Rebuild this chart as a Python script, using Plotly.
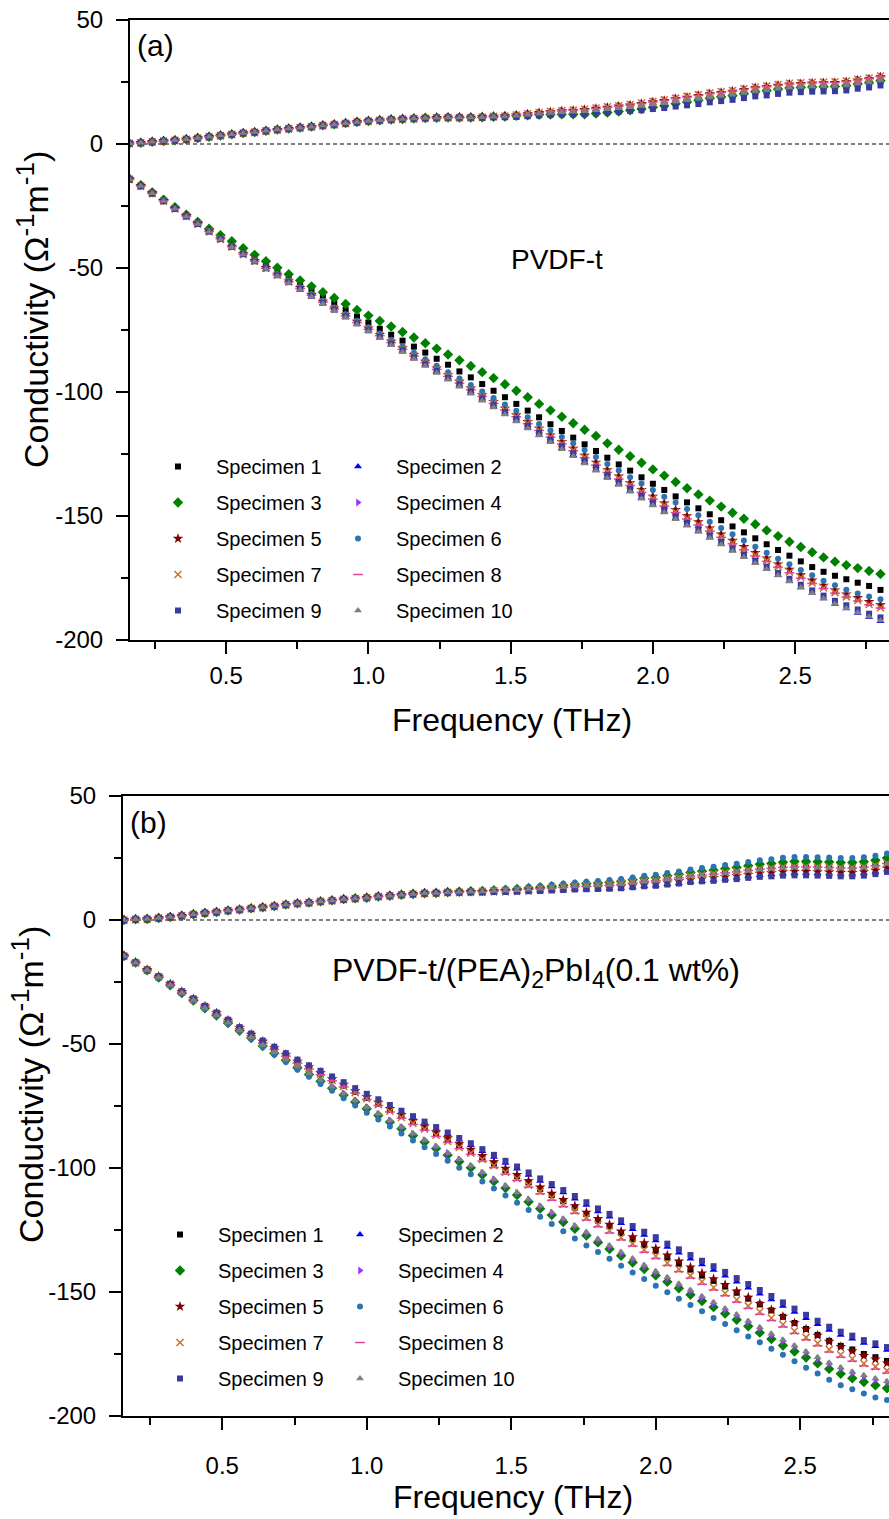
import plotly.graph_objects as go

FREQ = [0.16, 0.20, 0.24, 0.28, 0.32, 0.36, 0.40, 0.44, 0.48, 0.52,
        0.56, 0.60, 0.64, 0.68, 0.72, 0.76, 0.80, 0.84, 0.88, 0.92,
        0.96, 1.00, 1.04, 1.08, 1.12, 1.16, 1.20, 1.24, 1.28, 1.32,
        1.36, 1.40, 1.44, 1.48, 1.52, 1.56, 1.60, 1.64, 1.68, 1.72,
        1.76, 1.80, 1.84, 1.88, 1.92, 1.96, 2.00, 2.04, 2.08, 2.12,
        2.16, 2.20, 2.24, 2.28, 2.32, 2.36, 2.40, 2.44, 2.48, 2.52,
        2.56, 2.60, 2.64, 2.68, 2.72, 2.76, 2.80]

NAMES = ["Specimen 1", "Specimen 2", "Specimen 3", "Specimen 4", "Specimen 5",
         "Specimen 6", "Specimen 7", "Specimen 8", "Specimen 9", "Specimen 10"]

# ---------------- Panel (a): PVDF-t, upper branch ----------------
PA_UP_S1 = [0.3, 0.5, 0.9, 1.2, 1.5, 1.9, 2.4, 2.9, 3.4, 3.9,
            4.4, 4.8, 5.3, 5.8, 6.2, 6.6, 7.0, 7.5, 7.9, 8.4,
            8.9, 9.3, 9.6, 9.9, 10.1, 10.3, 10.5, 10.6, 10.7, 10.7,
            10.7, 10.7, 10.9, 10.9, 11.1, 11.5, 11.8, 12.0, 12.2, 12.4,
            12.5, 12.8, 13.2, 13.6, 14.0, 14.5, 15.2, 15.7, 16.5, 17.1,
            17.8, 18.5, 19.0, 19.5, 20.2, 20.9, 21.3, 21.9, 22.4, 22.6,
            22.8, 22.9, 23.0, 23.3, 24.0, 24.5, 25.3]
PA_UP_S2 = [0.3, 0.5, 0.9, 1.2, 1.5, 1.9, 2.4, 2.9, 3.4, 3.9,
            4.4, 4.8, 5.3, 5.8, 6.2, 6.6, 7.0, 7.5, 7.9, 8.4,
            8.9, 9.3, 9.6, 9.9, 10.1, 10.3, 10.5, 10.6, 10.7, 10.7,
            10.7, 10.8, 11.1, 11.2, 11.6, 12.0, 12.4, 12.8, 13.1, 13.4,
            13.6, 14.0, 14.5, 14.9, 15.4, 15.9, 16.5, 17.1, 17.8, 18.5,
            19.1, 19.8, 20.3, 20.8, 21.5, 22.2, 22.6, 23.2, 23.7, 23.9,
            24.1, 24.2, 24.3, 24.6, 25.3, 25.8, 26.6]
PA_UP_S3 = [0.3, 0.5, 0.9, 1.2, 1.5, 1.9, 2.4, 2.9, 3.4, 3.9,
            4.4, 4.8, 5.3, 5.8, 6.2, 6.6, 7.0, 7.5, 7.9, 8.4,
            8.9, 9.3, 9.6, 9.9, 10.1, 10.3, 10.5, 10.6, 10.7, 10.7,
            10.7, 10.8, 11.0, 11.1, 11.4, 11.6, 11.8, 11.9, 12.0, 12.0,
            12.0, 12.3, 12.7, 13.1, 13.6, 14.1, 14.8, 15.4, 16.2, 16.9,
            17.6, 18.4, 19.0, 19.5, 20.3, 21.1, 21.5, 22.1, 22.6, 22.8,
            23.0, 23.1, 23.2, 23.5, 24.2, 24.7, 25.5]
PA_UP_S4 = [0.3, 0.5, 0.9, 1.2, 1.5, 1.9, 2.4, 2.9, 3.4, 3.9,
            4.4, 4.8, 5.3, 5.8, 6.2, 6.6, 7.0, 7.5, 7.9, 8.4,
            8.9, 9.3, 9.6, 9.9, 10.1, 10.3, 10.5, 10.6, 10.7, 10.7,
            10.7, 10.9, 11.2, 11.3, 11.7, 12.2, 12.7, 13.0, 13.4, 13.7,
            14.0, 14.4, 14.9, 15.4, 15.9, 16.4, 17.1, 17.7, 18.5, 19.1,
            19.8, 20.5, 21.0, 21.5, 22.2, 22.9, 23.3, 23.9, 24.4, 24.6,
            24.8, 24.9, 25.0, 25.3, 26.0, 26.5, 27.3]
PA_UP_S5 = [0.3, 0.5, 0.9, 1.2, 1.5, 1.9, 2.4, 2.9, 3.4, 3.9,
            4.4, 4.8, 5.3, 5.8, 6.2, 6.6, 7.0, 7.5, 7.9, 8.4,
            8.9, 9.3, 9.6, 9.9, 10.1, 10.3, 10.5, 10.6, 10.7, 10.7,
            10.7, 10.9, 11.1, 11.3, 11.6, 12.1, 12.6, 12.9, 13.3, 13.5,
            13.8, 14.3, 14.7, 15.2, 15.6, 16.2, 16.9, 17.4, 18.2, 18.8,
            19.5, 20.2, 20.7, 21.2, 21.9, 22.6, 23.0, 23.6, 24.1, 24.3,
            24.5, 24.6, 24.7, 25.0, 25.7, 26.2, 27.0]
PA_UP_S6 = [0.3, 0.5, 0.9, 1.2, 1.5, 1.9, 2.4, 2.9, 3.4, 3.9,
            4.4, 4.8, 5.3, 5.8, 6.2, 6.6, 7.0, 7.5, 7.9, 8.4,
            8.9, 9.3, 9.6, 9.9, 10.1, 10.3, 10.5, 10.6, 10.7, 10.7,
            10.7, 10.8, 10.9, 11.0, 11.3, 11.7, 12.0, 12.3, 12.6, 12.8,
            12.9, 13.3, 13.7, 14.1, 14.4, 14.9, 15.5, 16.0, 16.6, 17.2,
            17.8, 18.5, 19.0, 19.5, 20.2, 20.9, 21.3, 21.9, 22.4, 22.6,
            22.8, 22.9, 23.0, 23.3, 24.0, 24.5, 25.3]
PA_UP_S7 = [0.3, 0.5, 0.9, 1.2, 1.5, 1.9, 2.4, 2.9, 3.4, 3.9,
            4.4, 4.8, 5.3, 5.8, 6.2, 6.6, 7.0, 7.5, 7.9, 8.4,
            8.9, 9.3, 9.6, 9.9, 10.1, 10.3, 10.5, 10.6, 10.7, 10.7,
            10.7, 10.9, 11.2, 11.3, 11.7, 12.2, 12.7, 13.1, 13.4, 13.7,
            14.0, 14.5, 15.0, 15.4, 15.9, 16.5, 17.2, 17.8, 18.5, 19.2,
            19.9, 20.6, 21.1, 21.6, 22.3, 23.0, 23.4, 24.0, 24.5, 24.7,
            24.9, 25.0, 25.1, 25.4, 26.1, 26.6, 27.4]
PA_UP_S8 = [0.3, 0.5, 0.9, 1.2, 1.5, 1.9, 2.4, 2.9, 3.4, 3.9,
            4.4, 4.8, 5.3, 5.8, 6.2, 6.6, 7.0, 7.5, 7.9, 8.4,
            8.9, 9.3, 9.6, 9.9, 10.1, 10.3, 10.5, 10.6, 10.7, 10.7,
            10.7, 10.9, 11.1, 11.3, 11.7, 12.1, 12.6, 13.0, 13.3, 13.6,
            13.9, 14.3, 14.8, 15.2, 15.7, 16.3, 16.9, 17.5, 18.3, 18.9,
            19.6, 20.3, 20.8, 21.3, 22.0, 22.7, 23.1, 23.7, 24.2, 24.4,
            24.6, 24.7, 24.8, 25.1, 25.8, 26.3, 27.1]
PA_UP_S9 = [0.3, 0.5, 0.9, 1.2, 1.5, 1.9, 2.4, 2.9, 3.4, 3.9,
            4.4, 4.8, 5.3, 5.8, 6.2, 6.6, 7.0, 7.5, 7.9, 8.4,
            8.9, 9.3, 9.6, 9.9, 10.1, 10.3, 10.5, 10.6, 10.7, 10.7,
            10.7, 10.7, 10.8, 10.8, 11.0, 11.2, 11.5, 11.7, 11.9, 12.0,
            12.1, 12.4, 12.7, 13.0, 13.3, 13.6, 14.1, 14.5, 15.1, 15.6,
            16.1, 16.8, 17.3, 17.8, 18.5, 19.2, 19.6, 20.2, 20.7, 20.9,
            21.1, 21.2, 21.3, 21.6, 22.3, 22.8, 23.6]
PA_UP_S10 = [0.3, 0.5, 0.9, 1.2, 1.5, 1.9, 2.4, 2.9, 3.4, 3.9,
             4.4, 4.8, 5.3, 5.8, 6.2, 6.6, 7.0, 7.5, 7.9, 8.4,
             8.9, 9.3, 9.6, 9.9, 10.1, 10.3, 10.5, 10.6, 10.7, 10.7,
             10.7, 10.8, 11.0, 11.1, 11.4, 11.8, 12.2, 12.5, 12.8, 13.0,
             13.2, 13.6, 14.0, 14.4, 14.8, 15.3, 15.9, 16.4, 17.1, 17.7,
             18.3, 19.0, 19.5, 20.0, 20.7, 21.4, 21.8, 22.4, 22.9, 23.1,
             23.3, 23.4, 23.5, 23.8, 24.5, 25.0, 25.8]

# ---------------- Panel (a): PVDF-t, lower branch ----------------
PA_LO_S1 = [-14.2, -16.9, -19.9, -23.0, -26.0, -29.1, -32.1, -35.1, -38.0, -41.2,
            -43.9, -46.5, -49.2, -51.7, -54.2, -56.8, -59.1, -61.8, -64.2, -66.9,
            -69.6, -72.0, -74.5, -76.9, -79.3, -81.7, -84.1, -86.6, -89.0, -91.7,
            -94.1, -96.8, -99.5, -102.1, -104.8, -107.5, -110.2, -113.0, -115.7, -118.4,
            -121.1, -123.8, -126.5, -129.2, -131.7, -134.4, -137.0, -139.5, -142.1, -144.5,
            -146.9, -149.3, -151.7, -154.2, -156.6, -159.0, -161.4, -163.7, -166.0, -168.3,
            -170.6, -172.5, -174.1, -175.5, -176.9, -178.2, -179.8]
PA_LO_S2 = [-14.2, -16.9, -19.9, -23.0, -26.1, -29.2, -32.3, -35.4, -38.5, -41.6,
            -44.6, -47.4, -50.3, -53.1, -55.9, -58.7, -61.4, -64.2, -67.0, -69.8,
            -72.6, -75.4, -78.1, -80.9, -83.7, -86.5, -89.2, -92.0, -94.8, -97.6,
            -100.4, -103.2, -106.0, -108.8, -111.6, -114.4, -117.2, -119.9, -122.7, -125.5,
            -128.4, -131.4, -134.4, -137.2, -139.9, -142.7, -145.5, -148.3, -151.0, -153.7,
            -156.2, -158.7, -161.3, -163.9, -166.4, -168.9, -171.4, -173.9, -176.3, -178.8,
            -181.1, -183.3, -185.5, -187.3, -189.1, -190.8, -192.4]
PA_LO_S3 = [-14.0, -16.6, -19.5, -22.5, -25.5, -28.5, -31.4, -34.2, -36.8, -39.2,
            -42.0, -44.7, -47.3, -49.9, -52.5, -55.0, -57.4, -59.8, -62.1, -64.5,
            -66.9, -69.2, -71.4, -73.6, -75.8, -78.0, -80.3, -82.5, -84.9, -87.2,
            -89.5, -92.0, -94.4, -96.9, -99.5, -102.1, -104.8, -107.4, -110.0, -112.6,
            -115.2, -117.7, -120.7, -123.3, -125.9, -128.5, -131.2, -133.7, -136.3, -138.8,
            -141.3, -143.8, -146.2, -148.7, -151.1, -153.3, -155.8, -158.1, -160.4, -162.5,
            -164.6, -166.7, -168.4, -169.8, -171.0, -172.2, -173.4]
PA_LO_S4 = [-14.2, -16.9, -19.8, -22.9, -26.0, -29.0, -32.1, -35.2, -38.3, -41.3,
            -44.3, -47.1, -50.0, -52.7, -55.4, -58.1, -60.9, -63.6, -66.3, -69.1,
            -71.8, -74.5, -77.1, -79.8, -82.5, -85.2, -87.9, -90.6, -93.3, -96.0,
            -98.7, -101.4, -104.1, -106.8, -109.6, -112.3, -115.0, -117.7, -120.4, -123.1,
            -126.0, -128.9, -131.8, -134.4, -137.1, -139.8, -142.6, -145.3, -147.9, -150.5,
            -152.9, -155.3, -157.9, -160.4, -162.9, -165.3, -167.5, -169.9, -172.1, -174.3,
            -176.5, -178.5, -180.4, -182.1, -183.6, -185.2, -186.5]
PA_LO_S5 = [-14.2, -16.9, -19.8, -22.9, -26.0, -29.0, -32.1, -35.2, -38.3, -41.3,
            -44.3, -47.1, -49.9, -52.6, -55.3, -58.0, -60.8, -63.5, -66.2, -68.9,
            -71.6, -74.3, -76.9, -79.6, -82.3, -85.0, -87.7, -90.4, -93.1, -95.8,
            -98.5, -101.2, -103.9, -106.6, -109.3, -112.0, -114.7, -117.4, -120.1, -122.8,
            -125.6, -128.4, -131.4, -134.0, -136.7, -139.4, -142.1, -144.9, -147.5, -150.0,
            -152.4, -154.9, -157.4, -159.9, -162.4, -164.8, -167.0, -169.4, -171.6, -173.8,
            -175.9, -178.0, -179.9, -181.5, -183.0, -184.6, -185.9]
PA_LO_S6 = [-14.2, -16.8, -19.8, -22.8, -25.9, -28.9, -32.0, -35.0, -38.1, -41.1,
            -44.1, -46.9, -49.7, -52.4, -55.1, -57.8, -60.5, -63.2, -65.9, -68.6,
            -71.3, -73.9, -76.4, -79.0, -81.6, -84.2, -86.8, -89.4, -92.0, -94.6,
            -97.2, -99.8, -102.4, -105.0, -107.6, -110.2, -112.9, -115.5, -118.1, -120.7,
            -123.4, -126.2, -129.0, -131.7, -134.4, -136.9, -139.5, -142.2, -144.6, -147.2,
            -149.7, -152.3, -154.8, -157.4, -159.9, -162.4, -164.8, -167.2, -169.5, -171.8,
            -173.9, -176.1, -177.9, -179.7, -181.2, -182.5, -183.6]
PA_LO_S7 = [-14.2, -16.9, -19.9, -22.9, -26.0, -29.1, -32.2, -35.3, -38.3, -41.4,
            -44.4, -47.2, -50.1, -52.8, -55.5, -58.2, -61.0, -63.7, -66.4, -69.2,
            -71.9, -74.6, -77.2, -80.0, -82.7, -85.4, -88.1, -90.8, -93.6, -96.3,
            -99.0, -101.7, -104.4, -107.2, -109.9, -112.6, -115.3, -118.1, -120.8, -123.5,
            -126.3, -129.3, -132.2, -134.8, -137.5, -140.2, -143.0, -145.7, -148.4, -150.9,
            -153.4, -155.8, -158.4, -160.9, -163.4, -165.8, -168.0, -170.4, -172.6, -174.8,
            -177.0, -179.0, -180.9, -182.6, -184.1, -185.7, -187.0]
PA_LO_S8 = [-14.2, -16.9, -19.9, -22.9, -26.0, -29.1, -32.2, -35.3, -38.3, -41.4,
            -44.4, -47.2, -50.1, -52.8, -55.6, -58.3, -61.0, -63.8, -66.5, -69.3,
            -72.0, -74.7, -77.3, -80.1, -82.8, -85.5, -88.2, -90.9, -93.7, -96.4,
            -99.1, -101.8, -104.6, -107.3, -110.0, -112.8, -115.5, -118.2, -121.0, -123.7,
            -126.5, -129.5, -132.4, -135.1, -137.7, -140.5, -143.2, -146.0, -148.6, -151.2,
            -153.6, -156.1, -158.6, -161.2, -163.6, -166.1, -168.3, -170.6, -172.9, -175.1,
            -177.2, -179.2, -181.1, -182.7, -184.3, -185.8, -187.1]
PA_LO_S9 = [-14.2, -16.9, -19.9, -23.0, -26.0, -29.1, -32.2, -35.3, -38.3, -41.4,
            -44.4, -47.3, -50.1, -52.9, -55.7, -58.4, -61.2, -64.0, -66.8, -69.5,
            -72.3, -75.1, -77.7, -80.5, -83.2, -86.0, -88.8, -91.5, -94.3, -97.0,
            -99.8, -102.6, -105.3, -108.1, -110.9, -113.6, -116.4, -119.2, -121.9, -124.7,
            -127.6, -130.5, -133.5, -136.3, -139.0, -141.8, -144.6, -147.4, -150.1, -152.8,
            -155.3, -157.8, -160.4, -163.0, -165.5, -168.0, -170.4, -172.9, -175.3, -177.7,
            -180.0, -182.1, -184.2, -186.0, -187.7, -189.4, -190.9]
PA_LO_S10 = [-14.2, -16.9, -19.9, -23.0, -26.1, -29.2, -32.3, -35.4, -38.5, -41.6,
             -44.6, -47.5, -50.4, -53.2, -56.0, -58.8, -61.6, -64.4, -67.2, -70.0,
             -72.8, -75.6, -78.3, -81.1, -83.9, -86.7, -89.5, -92.3, -95.1, -97.9,
             -100.7, -103.5, -106.3, -109.1, -111.9, -114.7, -117.5, -120.3, -123.1, -125.9,
             -128.8, -131.8, -134.8, -137.5, -140.2, -143.0, -145.8, -148.6, -151.3, -153.9,
             -156.4, -158.9, -161.5, -164.1, -166.6, -169.1, -171.5, -174.0, -176.4, -178.8,
             -181.1, -183.3, -185.4, -187.2, -188.9, -190.6, -192.1]

# ---------------- Panel (b): PVDF-t/(PEA)2PbI4, upper branch ----------------
PB_UP_S1 = [0.0, 0.3, 0.4, 0.8, 1.2, 1.7, 2.3, 2.8, 3.2, 3.8,
            4.2, 4.7, 5.1, 5.6, 6.2, 6.7, 7.0, 7.5, 7.9, 8.4,
            8.7, 9.0, 9.5, 9.8, 10.2, 10.5, 10.8, 10.9, 11.2, 11.3,
            11.4, 11.6, 11.8, 11.9, 12.1, 12.4, 12.7, 13.1, 13.4, 13.7,
            13.9, 14.1, 14.3, 14.7, 15.2, 15.7, 16.0, 16.6, 17.1, 17.9,
            18.3, 18.7, 19.2, 19.6, 20.2, 20.8, 21.1, 21.5, 21.7, 21.7,
            21.6, 21.5, 21.3, 21.3, 21.6, 22.2, 23.1]
PB_UP_S2 = [0.0, 0.3, 0.4, 0.8, 1.2, 1.7, 2.3, 2.8, 3.2, 3.8,
            4.2, 4.7, 5.1, 5.6, 6.2, 6.7, 7.0, 7.5, 7.9, 8.4,
            8.7, 9.0, 9.5, 9.8, 10.2, 10.5, 10.8, 10.9, 11.2, 11.2,
            11.2, 11.2, 11.3, 11.3, 11.4, 11.6, 11.8, 12.0, 12.2, 12.4,
            12.5, 12.6, 12.7, 12.9, 13.3, 13.7, 13.9, 14.4, 14.8, 15.4,
            15.7, 16.1, 16.6, 17.0, 17.6, 18.1, 18.4, 18.8, 19.0, 19.0,
            18.9, 18.8, 18.6, 18.6, 18.9, 19.5, 20.4]
PB_UP_S3 = [0.0, 0.3, 0.4, 0.8, 1.2, 1.7, 2.3, 2.8, 3.2, 3.8,
            4.2, 4.7, 5.1, 5.6, 6.2, 6.7, 7.0, 7.5, 7.9, 8.4,
            8.7, 9.0, 9.5, 9.8, 10.2, 10.5, 10.8, 10.9, 11.2, 11.4,
            11.6, 11.7, 12.0, 12.2, 12.5, 12.9, 13.2, 13.6, 14.0, 14.4,
            14.7, 14.9, 15.2, 15.6, 16.2, 16.8, 17.1, 17.8, 18.4, 19.2,
            19.7, 20.1, 20.7, 21.2, 21.9, 22.5, 22.8, 23.3, 23.6, 23.6,
            23.5, 23.4, 23.2, 23.2, 23.5, 24.1, 25.0]
PB_UP_S4 = [0.0, 0.3, 0.4, 0.8, 1.2, 1.7, 2.3, 2.8, 3.2, 3.8,
            4.2, 4.7, 5.1, 5.6, 6.2, 6.7, 7.0, 7.5, 7.9, 8.4,
            8.7, 9.0, 9.5, 9.8, 10.2, 10.5, 10.8, 10.9, 11.2, 11.3,
            11.4, 11.4, 11.6, 11.7, 11.9, 12.2, 12.5, 12.8, 13.0, 13.3,
            13.5, 13.7, 13.9, 14.2, 14.7, 15.1, 15.4, 16.0, 16.5, 17.2,
            17.5, 17.9, 18.4, 18.8, 19.4, 19.8, 20.1, 20.5, 20.6, 20.6,
            20.5, 20.4, 20.2, 20.2, 20.5, 21.1, 22.0]
PB_UP_S5 = [0.0, 0.3, 0.4, 0.8, 1.2, 1.7, 2.3, 2.8, 3.2, 3.8,
            4.2, 4.7, 5.1, 5.6, 6.2, 6.7, 7.0, 7.5, 7.9, 8.4,
            8.7, 9.0, 9.5, 9.8, 10.2, 10.5, 10.8, 10.9, 11.2, 11.2,
            11.3, 11.3, 11.5, 11.5, 11.7, 11.9, 12.1, 12.4, 12.6, 12.9,
            13.0, 13.2, 13.3, 13.5, 14.0, 14.4, 14.7, 15.2, 15.7, 16.3,
            16.7, 17.0, 17.4, 17.8, 18.3, 18.8, 19.0, 19.4, 19.5, 19.5,
            19.4, 19.3, 19.1, 19.1, 19.4, 20.0, 20.9]
PB_UP_S6 = [0.0, 0.3, 0.4, 0.8, 1.2, 1.7, 2.3, 2.8, 3.2, 3.8,
            4.2, 4.7, 5.1, 5.6, 6.2, 6.7, 7.0, 7.5, 7.9, 8.4,
            8.7, 9.0, 9.5, 9.8, 10.2, 10.5, 10.8, 10.9, 11.2, 11.4,
            11.7, 11.9, 12.3, 12.5, 12.8, 13.3, 13.7, 14.2, 14.6, 15.0,
            15.4, 15.7, 16.1, 16.5, 17.1, 17.8, 18.2, 19.0, 19.6, 20.4,
            21.0, 21.5, 22.2, 22.7, 23.4, 24.1, 24.5, 25.1, 25.4, 25.4,
            25.3, 25.2, 25.0, 25.0, 25.3, 25.9, 26.8]
PB_UP_S7 = [0.0, 0.3, 0.4, 0.8, 1.2, 1.7, 2.3, 2.8, 3.2, 3.8,
            4.2, 4.7, 5.1, 5.6, 6.2, 6.7, 7.0, 7.5, 7.9, 8.4,
            8.7, 9.0, 9.5, 9.8, 10.2, 10.5, 10.8, 10.9, 11.2, 11.3,
            11.4, 11.6, 11.8, 11.9, 12.1, 12.4, 12.7, 13.0, 13.3, 13.6,
            13.8, 14.1, 14.3, 14.6, 15.1, 15.6, 15.9, 16.5, 17.0, 17.7,
            18.1, 18.6, 19.1, 19.5, 20.1, 20.6, 20.9, 21.3, 21.5, 21.5,
            21.4, 21.3, 21.1, 21.1, 21.4, 22.0, 22.9]
PB_UP_S8 = [0.0, 0.3, 0.4, 0.8, 1.2, 1.7, 2.3, 2.8, 3.2, 3.8,
            4.2, 4.7, 5.1, 5.6, 6.2, 6.7, 7.0, 7.5, 7.9, 8.4,
            8.7, 9.0, 9.5, 9.8, 10.2, 10.5, 10.8, 10.9, 11.2, 11.3,
            11.4, 11.5, 11.7, 11.8, 12.0, 12.3, 12.6, 12.9, 13.2, 13.5,
            13.7, 13.9, 14.1, 14.4, 14.9, 15.6, 15.9, 16.5, 17.0, 17.7,
            18.1, 18.5, 19.0, 19.4, 20.0, 20.5, 20.8, 21.2, 21.4, 21.4,
            21.3, 21.2, 21.0, 21.0, 21.3, 21.9, 22.8]
PB_UP_S9 = [0.0, 0.3, 0.4, 0.8, 1.2, 1.7, 2.3, 2.8, 3.2, 3.8,
            4.2, 4.7, 5.1, 5.6, 6.2, 6.7, 7.0, 7.5, 7.9, 8.4,
            8.7, 9.0, 9.5, 9.8, 10.2, 10.5, 10.8, 10.9, 11.2, 11.2,
            11.2, 11.2, 11.3, 11.3, 11.4, 11.6, 11.7, 11.9, 12.1, 12.3,
            12.4, 12.5, 12.6, 12.8, 13.2, 13.6, 13.8, 14.3, 14.7, 15.3,
            15.6, 15.8, 16.2, 16.5, 17.0, 17.4, 17.6, 17.9, 18.0, 18.0,
            17.9, 17.8, 17.6, 17.6, 17.9, 18.5, 19.4]
PB_UP_S10 = [0.0, 0.3, 0.4, 0.8, 1.2, 1.7, 2.3, 2.8, 3.2, 3.8,
             4.2, 4.7, 5.1, 5.6, 6.2, 6.7, 7.0, 7.5, 7.9, 8.4,
             8.7, 9.0, 9.5, 9.8, 10.2, 10.5, 10.8, 10.9, 11.2, 11.3,
             11.4, 11.5, 11.7, 11.8, 12.0, 12.3, 12.6, 12.9, 13.2, 13.5,
             13.7, 13.9, 14.1, 14.4, 14.9, 15.4, 15.7, 16.3, 16.8, 17.5,
             17.9, 18.3, 18.8, 19.2, 19.8, 20.3, 20.6, 21.0, 21.2, 21.2,
             21.1, 21.0, 20.8, 20.8, 21.1, 21.7, 22.6]

# ---------------- Panel (b): PVDF-t/(PEA)2PbI4, lower branch ----------------
PB_LO_S1 = [-14.5, -17.2, -20.1, -22.9, -25.9, -29.0, -31.9, -35.0, -37.7, -40.7,
            -43.7, -46.4, -49.3, -51.9, -54.6, -57.3, -59.7, -62.0, -64.4, -66.8,
            -69.3, -71.8, -74.1, -76.6, -79.1, -81.5, -83.8, -86.2, -88.6, -90.9,
            -93.2, -95.8, -98.2, -100.8, -103.3, -105.8, -108.4, -110.9, -113.4, -115.9,
            -118.6, -121.2, -123.5, -126.2, -128.7, -131.1, -133.4, -136.1, -138.6, -141.0,
            -143.4, -145.5, -147.8, -150.3, -152.7, -155.0, -157.4, -160.0, -162.5, -164.9,
            -167.3, -169.7, -171.7, -173.2, -175.0, -176.3, -177.8]
PB_LO_S2 = [-14.5, -17.1, -20.0, -22.7, -25.7, -28.7, -31.7, -34.7, -37.4, -40.3,
            -43.3, -46.0, -48.8, -51.3, -53.9, -56.5, -58.8, -61.0, -63.4, -65.7,
            -68.1, -70.4, -72.6, -75.1, -77.4, -79.6, -81.8, -84.2, -86.4, -88.6,
            -90.8, -93.2, -95.6, -98.0, -100.3, -102.8, -105.2, -107.5, -109.9, -112.4,
            -114.9, -117.5, -119.7, -122.3, -124.7, -127.0, -129.2, -131.9, -134.2, -136.6,
            -138.9, -141.1, -143.4, -145.9, -148.3, -150.7, -153.0, -155.6, -158.1, -160.6,
            -163.0, -165.3, -167.3, -168.9, -170.6, -171.9, -173.4]
PB_LO_S3 = [-14.5, -17.2, -20.3, -23.2, -26.3, -29.5, -32.5, -35.6, -38.5, -41.6,
            -44.7, -47.6, -50.8, -53.7, -56.6, -59.6, -62.3, -65.0, -67.8, -70.6,
            -73.4, -76.1, -78.8, -81.5, -84.2, -86.9, -89.5, -92.1, -94.8, -97.4,
            -99.9, -102.7, -105.4, -108.1, -110.9, -113.6, -116.4, -119.0, -121.8, -124.5,
            -127.2, -130.0, -132.7, -135.4, -138.1, -140.7, -143.3, -145.9, -148.5, -151.1,
            -153.6, -156.1, -158.7, -161.2, -163.8, -166.4, -169.0, -171.6, -174.0, -176.4,
            -178.8, -181.0, -183.0, -184.8, -186.3, -187.6, -188.8]
PB_LO_S4 = [-14.5, -17.2, -20.2, -23.1, -26.2, -29.3, -32.3, -35.4, -38.3, -41.3,
            -44.4, -47.3, -50.4, -53.3, -56.2, -59.1, -61.8, -64.5, -67.2, -70.0,
            -72.9, -75.6, -78.2, -80.9, -83.6, -86.2, -88.8, -91.4, -94.0, -96.6,
            -99.3, -102.0, -104.7, -107.4, -110.1, -112.8, -115.5, -118.1, -120.8, -123.5,
            -126.4, -129.2, -131.8, -134.5, -137.1, -139.7, -142.2, -144.7, -147.3, -149.8,
            -152.3, -154.7, -157.3, -159.7, -162.3, -164.8, -167.4, -169.9, -172.2, -174.6,
            -176.9, -179.1, -181.0, -182.8, -184.2, -185.5, -186.6]
PB_LO_S5 = [-14.5, -17.1, -20.1, -22.8, -25.8, -28.9, -31.8, -34.8, -37.5, -40.5,
            -43.5, -46.2, -49.0, -51.6, -54.3, -57.0, -59.3, -61.6, -64.0, -66.3,
            -68.8, -71.3, -73.6, -76.1, -78.5, -80.9, -83.2, -85.6, -87.9, -90.3,
            -92.5, -95.1, -97.6, -100.2, -102.7, -105.2, -107.8, -110.3, -112.8, -115.3,
            -117.9, -120.5, -122.8, -125.5, -127.8, -130.2, -132.5, -135.2, -137.6, -140.0,
            -142.4, -144.7, -147.1, -149.7, -152.2, -154.7, -157.2, -159.9, -162.5, -165.0,
            -167.5, -170.0, -172.1, -173.8, -175.7, -177.1, -178.7]
PB_LO_S6 = [-14.5, -17.3, -20.3, -23.3, -26.4, -29.6, -32.6, -35.8, -38.7, -41.8,
            -44.9, -48.0, -51.2, -54.3, -57.3, -60.4, -63.2, -66.1, -68.9, -71.9,
            -74.8, -77.7, -80.4, -83.3, -86.1, -88.9, -91.6, -94.4, -97.1, -99.9,
            -102.5, -105.4, -108.3, -111.1, -114.0, -116.9, -119.7, -122.6, -125.5, -128.4,
            -131.2, -133.9, -136.6, -139.4, -142.1, -144.8, -147.5, -150.1, -152.7, -155.2,
            -157.8, -160.5, -162.9, -165.4, -167.9, -170.3, -172.9, -175.3, -177.9, -180.5,
            -182.9, -185.4, -187.6, -189.2, -190.9, -192.5, -193.5]
PB_LO_S7 = [-14.5, -17.2, -20.1, -22.9, -25.9, -29.0, -32.0, -35.0, -37.8, -40.7,
            -43.8, -46.5, -49.4, -52.1, -54.8, -57.5, -59.9, -62.2, -64.7, -67.1,
            -69.6, -72.1, -74.5, -77.1, -79.6, -82.0, -84.4, -86.8, -89.3, -91.7,
            -94.0, -96.6, -99.1, -101.7, -104.3, -106.9, -109.5, -112.0, -114.6, -117.3,
            -120.0, -122.7, -125.2, -128.0, -130.5, -133.0, -135.5, -138.3, -140.8, -143.4,
            -145.9, -148.2, -150.5, -153.1, -155.6, -158.0, -160.5, -163.1, -165.7, -168.3,
            -170.7, -173.2, -175.3, -176.9, -178.8, -180.1, -181.7]
PB_LO_S8 = [-14.5, -17.2, -20.1, -22.9, -26.0, -29.1, -32.0, -35.1, -37.9, -40.8,
            -43.9, -46.6, -49.6, -52.2, -54.9, -57.7, -60.1, -62.4, -64.8, -67.3,
            -69.8, -72.4, -74.8, -77.4, -79.9, -82.4, -84.8, -87.3, -89.7, -92.2,
            -94.5, -97.2, -99.8, -102.5, -105.0, -107.7, -110.4, -113.0, -115.6, -118.3,
            -121.0, -123.7, -126.2, -129.0, -131.5, -134.0, -136.5, -139.3, -141.8, -144.4,
            -146.9, -149.2, -151.5, -154.1, -156.6, -159.0, -161.5, -164.1, -166.7, -169.3,
            -171.7, -174.2, -176.3, -177.9, -179.8, -181.1, -182.7]
PB_LO_S9 = [-14.5, -17.1, -20.0, -22.7, -25.7, -28.7, -31.6, -34.6, -37.3, -40.2,
            -43.2, -45.8, -48.6, -51.1, -53.7, -56.3, -58.6, -60.8, -63.1, -65.4,
            -67.8, -70.1, -72.3, -74.6, -76.9, -79.1, -81.3, -83.5, -85.7, -87.9,
            -90.0, -92.4, -94.7, -97.1, -99.4, -101.8, -104.2, -106.5, -108.9, -111.3,
            -113.8, -116.3, -118.5, -121.1, -123.4, -125.7, -127.9, -130.5, -132.8, -135.1,
            -137.4, -139.6, -141.9, -144.4, -146.8, -149.2, -151.6, -154.2, -156.7, -159.2,
            -161.6, -164.0, -166.0, -167.6, -169.4, -170.7, -172.2]
PB_LO_S10 = [-14.5, -17.2, -20.2, -23.1, -26.2, -29.3, -32.3, -35.4, -38.3, -41.3,
             -44.4, -47.3, -50.4, -53.3, -56.2, -59.1, -61.8, -64.5, -67.2, -70.0,
             -72.8, -75.5, -78.1, -80.8, -83.5, -86.1, -88.7, -91.3, -93.9, -96.5,
             -99.0, -101.7, -104.4, -107.1, -109.8, -112.5, -115.2, -117.8, -120.5, -123.2,
             -125.8, -128.6, -131.2, -133.9, -136.5, -139.1, -141.6, -144.1, -146.7, -149.2,
             -151.7, -154.1, -156.7, -159.1, -161.7, -164.2, -166.8, -169.3, -171.6, -174.0,
             -176.3, -178.5, -180.4, -182.2, -183.6, -184.9, -186.0]

X_TICKS = [0.5, 1.0, 1.5, 2.0, 2.5]
X_TICK_TEXT = ["0.5", "1.0", "1.5", "2.0", "2.5"]
X_MINOR = [0.25, 0.75, 1.25, 1.75, 2.25, 2.75]
Y_TICKS = [-200, -150, -100, -50, 0, 50]
Y_TICK_TEXT = ["-200", "-150", "-100", "-50", "0", "50"]
Y_MINOR = [-175, -125, -75, -25, 25]
X_RANGE_A = [0.162, 2.830]
X_RANGE_B = [0.1565, 2.807]
Y_RANGE = [-200, 50]

PA_UPPER = [PA_UP_S1, PA_UP_S2, PA_UP_S3, PA_UP_S4, PA_UP_S5,
            PA_UP_S6, PA_UP_S7, PA_UP_S8, PA_UP_S9, PA_UP_S10]
PA_LOWER = [PA_LO_S1, PA_LO_S2, PA_LO_S3, PA_LO_S4, PA_LO_S5,
            PA_LO_S6, PA_LO_S7, PA_LO_S8, PA_LO_S9, PA_LO_S10]
PB_UPPER = [PB_UP_S1, PB_UP_S2, PB_UP_S3, PB_UP_S4, PB_UP_S5,
            PB_UP_S6, PB_UP_S7, PB_UP_S8, PB_UP_S9, PB_UP_S10]
PB_LOWER = [PB_LO_S1, PB_LO_S2, PB_LO_S3, PB_LO_S4, PB_LO_S5,
            PB_LO_S6, PB_LO_S7, PB_LO_S8, PB_LO_S9, PB_LO_S10]

for group in (PA_UPPER, PA_LOWER, PB_UPPER, PB_LOWER):
    for arr in group:
        assert len(arr) == len(FREQ), len(arr)

FONT = "Arial, Liberation Sans, Helvetica, sans-serif"

MARKERS = [
    dict(symbol="square", color="#000000", size=6, line=dict(width=0)),
    dict(symbol="triangle-up", color="#0000ff", size=7, line=dict(width=0)),
    dict(symbol="diamond", color="#008000", size=8, line=dict(width=0)),
    dict(symbol="triangle-right", color="#9b30ff", size=7, line=dict(width=0)),
    dict(symbol="star", color="#800000", size=8, line=dict(width=0)),
    dict(symbol="circle", color="#2c73b4", size=6, line=dict(width=0)),
    dict(symbol="x-thin-open", color="#c8742c", size=7, line=dict(width=1.5, color="#c8742c")),
    dict(symbol="line-ew-open", color="#e0439c", size=7, line=dict(width=1.5, color="#e0439c")),
    dict(symbol="square", color="#3b3b9b", size=6, line=dict(width=0)),
    dict(symbol="triangle-up", color="#808080", size=7, line=dict(width=0)),
]

fig = go.Figure()

panels = [
    (PA_UPPER, PA_LOWER, "x", "y", ("legend", "legend2")),
    (PB_UPPER, PB_LOWER, "x2", "y2", ("legend3", "legend4")),
]
for p, (ups, los, xa, ya, legs) in enumerate(panels):
    for i in range(10):
        fig.add_trace(go.Scatter(
            x=FREQ + FREQ, y=ups[i] + los[i], mode="markers",
            name=NAMES[i], marker=MARKERS[i], xaxis=xa, yaxis=ya,
            legend=legs[i % 2], legendgroup="p%d_s%d" % (p, i),
            hoverinfo="skip",
        ))

L_MARGIN = 123
W_PLOT = 889.0 - L_MARGIN
H_PLOT = 1396.0


def px_x(px):
    return (px - L_MARGIN) / W_PLOT


def px_y(py):
    return (1416 - py) / H_PLOT


def xaxis_cfg(rng, domain, anchor, standoff):
    return dict(
        range=rng, domain=domain, anchor=anchor, showline=True, mirror=True,
        linecolor="black", linewidth=2, showgrid=False, zeroline=False,
        tickmode="array", tickvals=X_TICKS, ticktext=X_TICK_TEXT,
        ticks="outside", ticklen=12, tickwidth=2, tickcolor="black",
        ticklabelstandoff=standoff,
        minor=dict(tickmode="array", tickvals=X_MINOR, ticks="outside",
                   ticklen=7, tickwidth=2, tickcolor="black"),
        tickfont=dict(family=FONT, size=24, color="black"),
    )


def yaxis_cfg(domain, anchor):
    return dict(
        range=Y_RANGE, domain=domain, anchor=anchor, showline=True, mirror=False,
        linecolor="black", linewidth=2, showgrid=False, zeroline=False,
        tickmode="array", tickvals=Y_TICKS, ticktext=Y_TICK_TEXT,
        ticks="outside", ticklen=12, tickwidth=2, tickcolor="black",
        ticklabelstandoff=8,
        minor=dict(tickmode="array", tickvals=Y_MINOR, ticks="outside",
                   ticklen=7, tickwidth=2, tickcolor="black"),
        tickfont=dict(family=FONT, size=24, color="black"),
    )


leg_common = dict(xanchor="left", yanchor="top", bgcolor="rgba(0,0,0,0)",
                  font=dict(family=FONT, size=20, color="black"),
                  itemwidth=66, tracegroupgap=7, traceorder="grouped")

SUP = "<sup><span style='font-size:26px'>-1</span></sup>"
Y_TITLE = "Conductivity (\u03a9" + SUP + "m" + SUP + ")"

fig.update_layout(
    width=889, height=1519,
    margin=dict(l=L_MARGIN, r=0, t=20, b=103),
    paper_bgcolor="white", plot_bgcolor="white",
    font=dict(family=FONT, color="black"),
    hovermode=False,
    xaxis=xaxis_cfg(X_RANGE_A, [px_x(130), 1.0], "y", 1),
    yaxis=yaxis_cfg([px_y(640), 1.0], "x"),
    xaxis2=xaxis_cfg(X_RANGE_B, [0.0, 1.0], "y2", 15),
    yaxis2=yaxis_cfg([0.0, px_y(796)], "x2"),
    legend=dict(x=px_x(140), y=px_y(447), **leg_common),
    legend2=dict(x=px_x(320), y=px_y(447), **leg_common),
    legend3=dict(x=px_x(142), y=px_y(1215), **leg_common),
    legend4=dict(x=px_x(322), y=px_y(1215), **leg_common),
    shapes=[
        dict(type="line", xref="x domain", yref="y", x0=0, x1=1, y0=0, y1=0,
             layer="below", line=dict(color="black", width=1.2, dash="4px,3px")),
        dict(type="line", xref="x2 domain", yref="y2", x0=0, x1=1, y0=0, y1=0,
             layer="below", line=dict(color="#808080", width=2, dash="4px,3px")),
    ],
    annotations=[
        dict(text="(a)", xref="paper", yref="paper", x=px_x(135), y=px_y(46),
             xanchor="left", yanchor="middle", showarrow=False,
             font=dict(family=FONT, size=30, color="black")),
        dict(text="PVDF-t", xref="paper", yref="paper", x=px_x(557), y=px_y(259),
             xanchor="center", yanchor="middle", showarrow=False,
             font=dict(family=FONT, size=28, color="black")),
        dict(text="(b)", xref="paper", yref="paper", x=px_x(128), y=px_y(822),
             xanchor="left", yanchor="middle", showarrow=False,
             font=dict(family=FONT, size=30, color="black")),
        dict(text="PVDF-t/(PEA)<sub><span style='font-size:23px'>2</span></sub>PbI"
                  "<sub><span style='font-size:23px'>4</span></sub>(0.1 wt%)",
             xref="paper", yref="paper",
             x=px_x(536), y=px_y(972), xanchor="center", yanchor="middle", showarrow=False,
             font=dict(family=FONT, size=32, color="black")),
        dict(text="Frequency (THz)", xref="paper", yref="paper", x=px_x(512), y=px_y(720),
             xanchor="center", yanchor="middle", showarrow=False,
             font=dict(family=FONT, size=32, color="black")),
        dict(text="Frequency (THz)", xref="paper", yref="paper", x=px_x(513), y=px_y(1497),
             xanchor="center", yanchor="middle", showarrow=False,
             font=dict(family=FONT, size=32, color="black")),
        dict(text=Y_TITLE, xref="paper", yref="paper",
             x=px_x(32), y=px_y(310), xanchor="center", yanchor="middle", textangle=-90,
             showarrow=False, font=dict(family=FONT, size=34, color="black")),
        dict(text=Y_TITLE, xref="paper", yref="paper",
             x=px_x(27), y=px_y(1085), xanchor="center", yanchor="middle", textangle=-90,
             showarrow=False, font=dict(family=FONT, size=34, color="black")),
    ],
)

fig.write_html("out.html", config={"displayModeBar": False, "staticPlot": True},
               post_script="document.body.style.margin='0';")
